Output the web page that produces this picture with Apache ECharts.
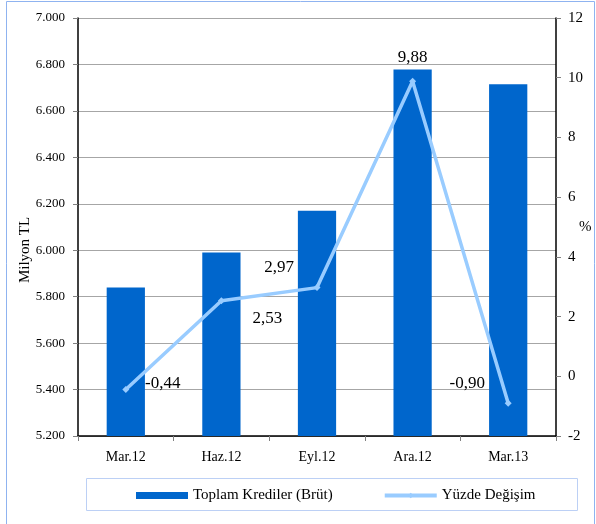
<!DOCTYPE html>
<html>
<head>
<meta charset="utf-8">
<script src="https://cdn.jsdelivr.net/npm/echarts@6/dist/echarts.min.js"></script>
<style>
  html, body { margin: 0; padding: 0; background: #fff; }
</style>
</head>
<body>
<div id="chart" style="width: 596px; height: 524px;"></div>
<script>
// donemler (quarters)
const categories = ['Mar.12', 'Haz.12', 'Eyl.12', 'Ara.12', 'Mar.13'];
// Toplam Krediler (Brüt), milyon TL
const krediler = [5840, 5990, 6170, 6778, 6715];
// Yüzde Değişim, %
const yuzde = [-0.44, 2.53, 2.97, 9.88, -0.90];
// label offsets for the % labels (relative to each point)
const labelOffsets = [[37, -6], [46, 18], [-38, -20], [0, -24], [-41, -20]];

const serif = '"Liberation Serif", "DejaVu Serif", serif';

let option = {
  animation: false,
  textStyle: { fontFamily: serif },
  grid: { left: 78, right: 40, top: 18, bottom: 88, outerBoundsMode: 'none', containLabel: false },
  graphic: [
    {
      type: 'rect',
      shape: { x: 6.5, y: 1.5, width: 588, height: 540 },
      style: { fill: 'none', stroke: '#8fb3f0', lineWidth: 1 },
      silent: true
    },
    {
      type: 'rect',
      shape: { x: 86.5, y: 478.5, width: 491, height: 32 },
      style: { fill: 'none', stroke: '#bcd0f5', lineWidth: 1 },
      silent: true
    }
  ],
  legend: {
    left: 131,
    top: 483,
    itemWidth: 52,
    itemHeight: 7,
    itemGap: 50,
    textStyle: { fontFamily: serif, fontSize: 15, color: '#000' },
    data: [
      { name: 'Toplam Krediler (Brüt)', icon: 'rect' },
      { name: 'Yüzde Değişim', lineStyle: { width: 4 } }
    ]
  },
  xAxis: {
    type: 'category',
    data: categories,
    axisLine: { onZero: false, lineStyle: { color: '#000', width: 1.5 } },
    axisTick: { show: true, length: 5, lineStyle: { color: '#808080' } },
    axisLabel: { color: '#000', fontSize: 14, margin: 14, fontFamily: serif }
  },
  yAxis: [
    {
      type: 'value',
      min: 5200,
      max: 7000,
      interval: 200,
      name: 'Milyon TL',
      nameLocation: 'middle',
      nameGap: 45,
      nameMoveOverlap: false,
      nameTextStyle: { fontSize: 15, color: '#000', fontFamily: serif, padding: [0, 46, 0, 0] },
      axisLine: { show: true, lineStyle: { color: '#000', width: 1.5 } },
      axisTick: { show: true, length: 5, lineStyle: { color: '#808080' } },
      axisLabel: {
        color: '#000',
        fontSize: 13,
        margin: 13,
        fontFamily: serif,
        formatter: v => v.toLocaleString('de-DE', { minimumFractionDigits: 0 })
      },
      splitLine: { lineStyle: { color: '#a6a6a6', width: 1 } }
    },
    {
      type: 'value',
      min: -2,
      max: 12,
      interval: 2,
      name: '%',
      nameLocation: 'middle',
      nameGap: 23,
      nameMoveOverlap: false,
      nameRotate: 0,
      nameTextStyle: { fontSize: 15, color: '#000', fontFamily: serif },
      axisLine: { show: true, lineStyle: { color: '#000', width: 1.5 } },
      axisTick: { show: true, length: 5, lineStyle: { color: '#808080' } },
      axisLabel: { color: '#000', fontSize: 15, margin: 12, fontFamily: serif },
      splitLine: { show: false }
    }
  ],
  series: [
    {
      name: 'Toplam Krediler (Brüt)',
      type: 'bar',
      data: krediler,
      barWidth: '40%',
      itemStyle: { color: '#0066cc' },
      z: 2
    },
    {
      name: 'Yüzde Değişim',
      type: 'line',
      yAxisIndex: 1,
      data: yuzde.map((v, i) => ({
        value: v,
        label: { offset: labelOffsets[i] }
      })),
      symbol: 'diamond',
      symbolSize: 7,
      lineStyle: { color: '#99ccff', width: 3.5 },
      itemStyle: { color: '#99ccff' },
      label: {
        show: true,
        position: 'inside',
        color: '#000',
        fontSize: 17,
        fontFamily: serif,
        formatter: p => p.value.toFixed(2).replace('.', ',')
      },
      z: 3
    }
  ]
};

let myChart = echarts.init(document.getElementById('chart'));
myChart.setOption(option);
window.addEventListener('resize', function () {
  myChart.resize();
});
</script>
</body>
</html>
